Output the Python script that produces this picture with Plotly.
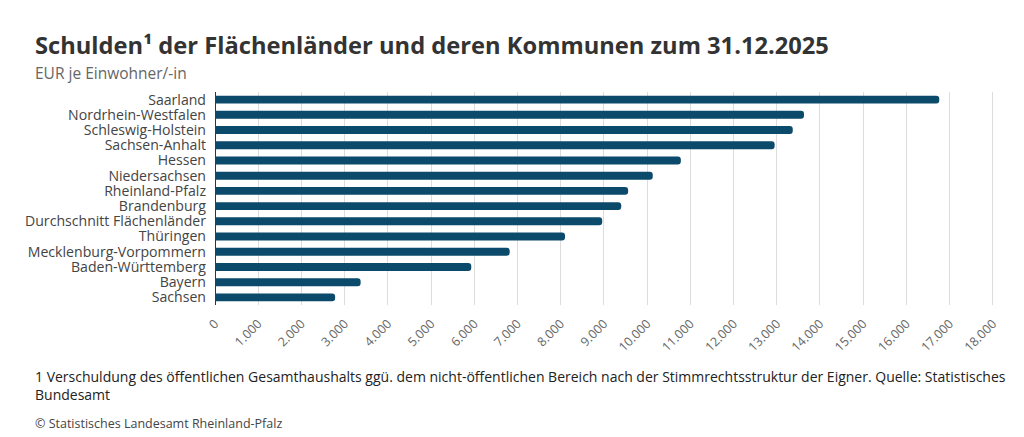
import plotly.graph_objects as go

# Schulden je Einwohner/-in, Stand 31.12.2025
laender = [
    "Saarland", "Nordrhein-Westfalen", "Schleswig-Holstein", "Sachsen-Anhalt",
    "Hessen", "Niedersachsen", "Rheinland-Pfalz", "Brandenburg",
    "Durchschnitt Flächenländer", "Thüringen", "Mecklenburg-Vorpommern",
    "Baden-Württemberg", "Bayern", "Sachsen",
]
schulden = [16760, 13630, 13370, 12950, 10780, 10130, 9560, 9400,
            8960, 8100, 6820, 5930, 3370, 2780]

tick_vals = list(range(0, 18001, 1000))

# the page body has an 8px margin, so the figure is shifted by 8px
W, H = 1016, 429
L, R, T, B = 207, 29, 84, 132
pw, ph = W - L - R, H - T - B


def px(x):
    return (x - L) / pw


def py(y):
    return (H - B - y) / ph


fig = go.Figure(go.Bar(
    x=schulden,
    y=laender,
    orientation="h",
    width=0.52,
    marker=dict(color="#0b4a6b", cornerradius=4, line=dict(width=0)),
    hovertemplate="%{y}: %{x:,.0f}<extra></extra>",
))

fig.update_layout(
    width=W, height=H,
    margin=dict(l=L, r=R, t=T, b=B),
    plot_bgcolor="white", paper_bgcolor="white",
    font=dict(family="Open Sans, sans-serif", color="#444", size=14),
    separators=",.",
    showlegend=False,
)

fig.update_xaxes(
    range=[0, 18050],
    tickvals=tick_vals,
    tickformat=",d",
    tickangle=-45,
    tickfont=dict(size=12.5, color="#666"),
    ticklabelstandoff=8,
    showgrid=True, gridcolor="#dcdcdc", gridwidth=1,
    zeroline=True, zerolinecolor="#333", zerolinewidth=1,
    ticks="", fixedrange=True,
)
fig.update_yaxes(
    autorange="reversed",
    tickmode="array", tickvals=laender,
    tickfont=dict(size=14.1, color="#444"),
    ticklabelstandoff=8,
    ticks="", ticklen=0,
    showgrid=False, fixedrange=True,
)

texts = [
    ("<b>Schulden¹ der Flächenländer und deren Kommunen zum 31.12.2025</b>",
     37, 23.7, "#333"),
    ("EUR je Einwohner/-in", 65, 15.5, "#666"),
    ("1 Verschuldung des öffentlichen Gesamthaushalts ggü. dem nicht-öffentlichen "
     "Bereich nach der Stimmrechtsstruktur der Eigner. Quelle: Statistisches<br>Bundesamt",
     377, 14, "#222"),
    ("© Statistisches Landesamt Rheinland-Pfalz", 416, 12.5, "#444"),
]
for txt, ypix, size, col in texts:
    fig.add_annotation(
        text=txt, xref="paper", yref="paper",
        x=px(25), y=py(ypix), xanchor="left", yanchor="middle",
        align="left", showarrow=False,
        font=dict(size=size, color=col),
    )

fig.write_html("out.html", config={"displayModeBar": False})
